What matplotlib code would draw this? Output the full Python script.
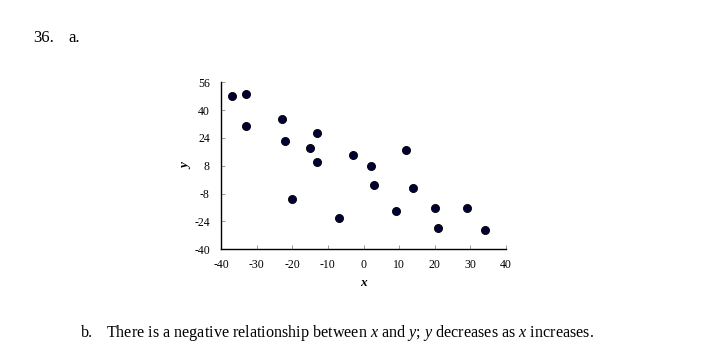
import matplotlib
matplotlib.use("Agg")
import matplotlib.pyplot as plt

x_vals = [-37, -33, -33, -23, -22, -13, -15, -13, -3, -20, -7, 2, 12, 3, 14, 9, 20, 29, 21, 34]
y_vals = [48, 49, 31, 35, 22, 27, 18, 10, 14, -11, -22, 8, 17, -3, -5, -18, -16, -16, -28, -29]
x_ticks = [-40, -30, -20, -10, 0, 10, 20, 30, 40]
y_ticks = [-40, -24, -8, 8, 24, 40, 56]

plt.rcParams['font.family'] = ['Liberation Serif', 'DejaVu Serif']
plt.rcParams['axes.unicode_minus'] = False
plt.rcParams['mathtext.fontset'] = 'custom'
plt.rcParams['mathtext.rm'] = 'Liberation Serif'
plt.rcParams['mathtext.it'] = 'Liberation Serif:italic'

W, H = 706, 358
fig = plt.figure(figsize=(W / 100, H / 100), dpi=100)
fig.patch.set_facecolor('white')

left, right = 221 / W, 506 / W
bottom, top = 1 - 249.3 / H, 1 - 82.3 / H
ax = fig.add_axes([left, bottom, right - left, top - bottom])

ax.scatter(x_vals, y_vals, s=34, color='#000033', edgecolors='black', linewidths=0.6, zorder=3, clip_on=False)

ax.set_xlim(-40, 40)
ax.set_ylim(-40, 56)
ax.set_xticks(x_ticks)
ax.set_yticks(y_ticks)
ax.tick_params(direction='in', length=3, width=0.6, color='#888888', labelsize=8.5)
ax.tick_params(axis='x', pad=7)
ax.tick_params(axis='y', pad=8)
for s in ['top', 'right']:
    ax.spines[s].set_visible(False)
for s in ['left', 'bottom']:
    ax.spines[s].set_linewidth(1.0)
    ax.spines[s].set_color('black')

ax.set_xlabel('x', style='italic', fontweight='bold', fontsize=9.5, labelpad=4)
ax.set_ylabel('y', style='italic', fontweight='bold', fontsize=9.5, labelpad=1)

fig.text(33 / W, 1 - 42 / H, '36.', fontsize=12, ha='left', va='baseline')
fig.text(68 / W, 1 - 42 / H, 'a.', fontsize=12, ha='left', va='baseline')
fig.text(81 / W, 1 - 337 / H, 'b.', fontsize=11.6, ha='left', va='baseline')
fig.text(106 / W, 1 - 337 / H,
         r'There is a negative relationship between $x$ and $y$; $y$ decreases as $x$ increases.',
         fontsize=11.6, ha='left', va='baseline')

fig.savefig('out.png', dpi=100, facecolor='white')
